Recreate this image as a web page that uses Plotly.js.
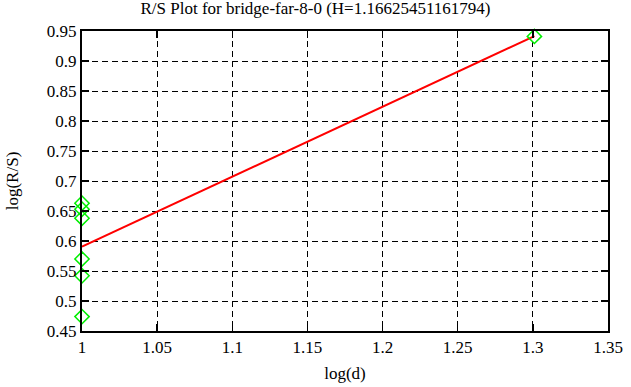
<!DOCTYPE html>
<html>
<head>
<meta charset="utf-8">
<script src="https://cdn.plot.ly/plotly-3.0.1.min.js"></script>
<style>html,body{margin:0;padding:0;background:#fff;}#chart{width:631px;height:387px;}</style>
</head>
<body>
<div id="chart"></div>
<script>
// Data points (log(d), log(R/S))
const logD = [1, 1, 1, 1, 1, 1, 1.30103];
const logRS = [0.663, 0.653, 0.638, 0.570, 0.542, 0.474, 0.941];
// Fitted line endpoints
const fitX = [1, 1.30103];
const fitY = [0.5905, 0.9416];
const xTicks = [1, 1.05, 1.1, 1.15, 1.2, 1.25, 1.3, 1.35];
const xTickText = ["1", "1.05", "1.1", "1.15", "1.2", "1.25", "1.3", "1.35"];
const yTicks = [0.45, 0.5, 0.55, 0.6, 0.65, 0.7, 0.75, 0.8, 0.85, 0.9, 0.95];
const yTickText = ["0.45", "0.5", "0.55", "0.6", "0.65", "0.7", "0.75", "0.8", "0.85", "0.9", "0.95"];

const font = {family: "Liberation Serif, Times New Roman, serif", size: 17, color: "#000"};

const traces = [
  {x: fitX, y: fitY, mode: "lines", line: {color: "#ff0000", width: 2}, hoverinfo: "skip", cliponaxis: false},
  {x: logD, y: logRS, mode: "markers", cliponaxis: false, marker: {symbol: "diamond-open", size: 11, color: "#00ee00", line: {width: 1.5, color: "#00ee00"}}}
];

const axisCommon = {
  showline: true, linecolor: "#000", linewidth: 2, mirror: "ticks",
  ticks: "inside", ticklen: 7, tickwidth: 1.5, tickcolor: "#000",
  showgrid: true, gridcolor: "#000", gridwidth: 1, griddash: "6px,4px",
  zeroline: false, tickfont: font
};

const layout = {
  width: 631, height: 387,
  margin: {l: 82, r: 23, t: 31, b: 56},
  paper_bgcolor: "#fff", plot_bgcolor: "#fff",
  showlegend: false,
  font: font,
  title: {text: "R/S Plot for bridge-far-8-0 (H=1.16625451161794)", font: font, x: 0.5, xanchor: "center", y: 0.978, yanchor: "middle"},
  xaxis: Object.assign({}, axisCommon, {
    range: [1, 1.35], tickmode: "array", tickvals: xTicks, ticktext: xTickText,
    title: {text: "log(d)", font: font, standoff: 11}
  }),
  yaxis: Object.assign({}, axisCommon, {
    range: [0.45, 0.95], tickmode: "array", tickvals: yTicks, ticktext: yTickText,
    title: {text: "log(R/S)", font: font, standoff: 24}
  })
};

Plotly.newPlot("chart", traces, layout, {displayModeBar: false, staticPlot: true});
</script>
</body>
</html>
